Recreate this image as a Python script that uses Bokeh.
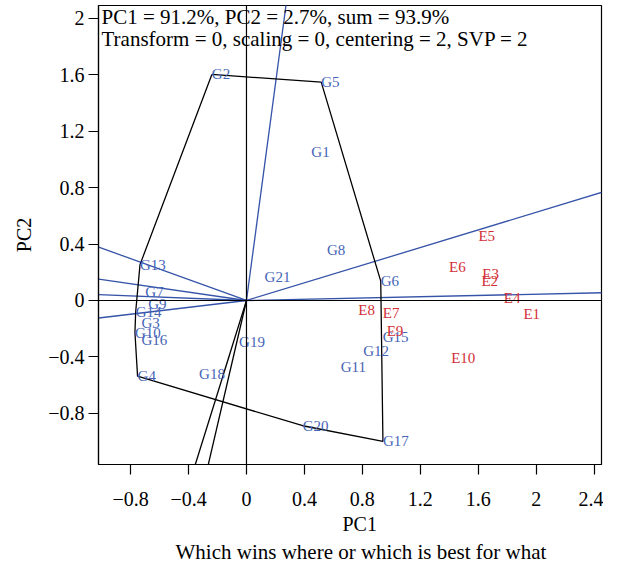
from bokeh.plotting import figure
from bokeh.models import Label, Span, FixedTicker, Range1d, ColumnDataSource, Title
from bokeh.embed import file_html
from bokeh.resources import INLINE
from bokeh.core.properties import value

# ---- data ----
geno_names = ["G1", "G2", "G3", "G4", "G5", "G6", "G7", "G8", "G9", "G10", "G11",
              "G12", "G13", "G14", "G15", "G16", "G17", "G18", "G19", "G20", "G21"]
geno_pc1 = [0.448, -0.239, -0.725, -0.752, 0.516, 0.927, -0.698, 0.556, -0.678, -0.770, 0.651,
            0.806, -0.735, -0.765, 0.940, -0.725, 0.942, -0.327, -0.051, 0.388, 0.125]
geno_pc2 = [1.052, 1.601, -0.158, -0.536, 1.546, 0.137, 0.062, 0.357, -0.027, -0.227, -0.474,
            -0.357, 0.254, -0.082, -0.261, -0.282, -0.997, -0.522, -0.296, -0.887, 0.165]

env_names = ["E1", "E2", "E3", "E4", "E5", "E6", "E7", "E8", "E9", "E10"]
env_pc1 = [1.912, 1.622, 1.628, 1.777, 1.601, 1.399, 0.941, 0.772, 0.968, 1.413]
env_pc2 = [-0.096, 0.137, 0.186, 0.021, 0.454, 0.234, -0.089, -0.069, -0.213, -0.405]

hull_order = ["G2", "G5", "G6", "G17", "G20", "G4", "G10", "G14", "G13", "G2"]

ray_blue_pc1 = [0.30, 2.465, 2.465, -1.02, -1.02, -1.02, -1.02]
ray_blue_pc2 = [2.30, 0.77, 0.055, 0.378, 0.151, 0.041, -0.124]
ray_black_pc1 = [-0.362, -0.270]
ray_black_pc2 = [-1.19, -1.19]

x_ticks = [-0.8, -0.4, 0, 0.4, 0.8, 1.2, 1.6, 2, 2.4]
x_tick_labels = ["\u22120.8", "\u22120.4", "0", "0.4", "0.8", "1.2", "1.6", "2", "2.4"]
y_ticks = [-0.8, -0.4, 0, 0.4, 0.8, 1.2, 1.6, 2]
y_tick_labels = ["\u22120.8", "\u22120.4", "0", "0.4", "0.8", "1.2", "1.6", "2"]

info_lines = ["PC1 = 91.2%, PC2 = 2.7%, sum = 93.9%",
              "Transform = 0, scaling = 0, centering = 2, SVP = 2"]
x_title = "PC1"
y_title = "PC2"
sub_title = "Which wins where or which is best for what"

# ---- styling ----
FONT = "Liberation Serif"
BLUE_TXT = "#4664b6"
BLUE_LINE = "#3553a8"
RED_TXT = "#d22e36"

x0, x1 = -1.0216, 2.451
y0, y1 = -1.1615, 2.089

p = figure(width=603, height=563,
           x_range=Range1d(x0, x1), y_range=Range1d(y0, y1),
           output_backend="svg", toolbar_location=None,
           min_border_left=98, min_border_top=5, min_border_right=2, min_border_bottom=99,
           background_fill_color="white", border_fill_color="white")

p.xgrid.grid_line_color = None
p.ygrid.grid_line_color = None
p.outline_line_color = "black"
p.outline_line_width = 1.2

for ax, ticks, labels in ((p.xaxis[0], x_ticks, x_tick_labels),
                          (p.yaxis[0], y_ticks, y_tick_labels)):
    ax.ticker = FixedTicker(ticks=ticks)
    ax.major_label_overrides = {t: l for t, l in zip(ticks, labels)}
    ax.axis_label_text_font = FONT
    ax.axis_label_text_font_size = "20px"
    ax.axis_label_text_font_style = "normal"
    ax.axis_label_text_color = "black"
    ax.major_label_text_font = FONT
    ax.major_label_text_font_size = "20px"
    ax.major_label_text_color = "black"
    ax.major_tick_out = 10
    ax.major_tick_in = 0
    ax.minor_tick_out = 0
    ax.minor_tick_in = 0
    ax.major_tick_line_color = "black"
    ax.major_tick_line_width = 1.2
    ax.axis_line_color = "black"
    ax.axis_line_width = 1.2

p.yaxis[0].axis_label = y_title
p.xaxis[0].major_label_standoff = 17
p.yaxis[0].major_label_standoff = 4
p.yaxis[0].axis_label_standoff = 10

# reference lines through origin
p.add_layout(Span(location=0, dimension="width", line_color="black", line_width=1.2))
p.add_layout(Span(location=0, dimension="height", line_color="black", line_width=1.2))

# rays
p.segment(x0=[0] * len(ray_blue_pc1), y0=[0] * len(ray_blue_pc2),
          x1=ray_blue_pc1, y1=ray_blue_pc2, line_color=BLUE_LINE, line_width=1.3)
p.segment(x0=[0] * len(ray_black_pc1), y0=[0] * len(ray_black_pc2),
          x1=ray_black_pc1, y1=ray_black_pc2, line_color="black", line_width=1.3)

# convex hull polygon
idx = {n: i for i, n in enumerate(geno_names)}
hx = [geno_pc1[idx[n]] for n in hull_order]
hy = [geno_pc2[idx[n]] for n in hull_order]
p.line(hx, hy, line_color="black", line_width=1.3)

# labels
gsrc = ColumnDataSource(dict(x=geno_pc1, y=geno_pc2, t=geno_names))
esrc = ColumnDataSource(dict(x=env_pc1, y=env_pc2, t=env_names))
p.text(x="x", y="y", text="t", source=gsrc, text_font=value(FONT), text_font_size="15px",
       text_color=BLUE_TXT, text_align="left", text_baseline="middle")
p.text(x="x", y="y", text="t", source=esrc, text_font=value(FONT), text_font_size="15px",
       text_color=RED_TXT, text_align="left", text_baseline="middle")

# info text at top-left
for i, line in enumerate(info_lines):
    p.add_layout(Label(x=x0, y=y1, x_offset=3, y_offset=1 - 22 * i, text=line,
                       text_font=FONT, text_font_size="21px", text_color="black",
                       text_align="left", text_baseline="top"))

# x-axis title and subtitle below the plot
p.add_layout(Title(text=x_title, align="left", offset=244, standoff=5,
                   text_font=FONT, text_font_size="20px", text_font_style="normal",
                   text_color="black"), "below")
p.add_layout(Title(text=sub_title, align="left", offset=77, standoff=0,
                   text_font=FONT, text_font_size="21px", text_font_style="normal",
                   text_color="black"), "below")

open("out.html", "w").write(file_html(p, INLINE))
